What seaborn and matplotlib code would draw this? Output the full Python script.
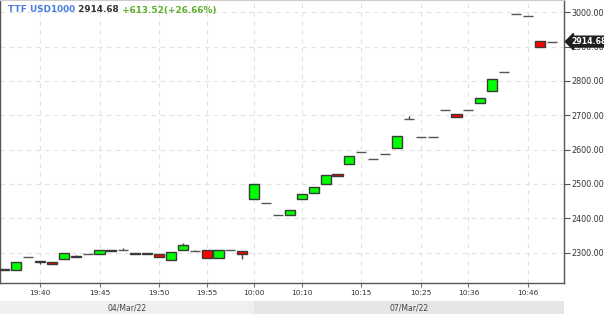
import numpy as np
import pandas as pd
import matplotlib
matplotlib.use("Agg")
import matplotlib.pyplot as plt
import seaborn as sns

# ---- data ----
opens = [2250, 2251, 2287, 2273, 2273, 2282, 2291, 2297, 2297, 2308,
         2308, 2300, 2299, 2295, 2279, 2308, 2304, 2309, 2285, 2309,
         2306, 2457, 2445, 2411, 2409, 2456, 2474, 2501, 2530, 2558,
         2593, 2574, 2587, 2606, 2688, 2638, 2638, 2715, 2705, 2716,
         2736, 2771, 2826, 2996, 2990, 2916, 2914.68]
closes = [2252, 2273, 2287, 2277, 2267, 2299, 2288, 2297, 2308, 2305,
          2308, 2296, 2296, 2287, 2301, 2322, 2304, 2285, 2309, 2309,
          2297, 2500, 2445, 2411, 2423, 2471, 2491, 2525, 2524, 2582,
          2593, 2574, 2587, 2641, 2688, 2638, 2638, 2715, 2696, 2716,
          2750, 2805, 2826, 2996, 2990, 2899, 2914.68]
highs = [2252, 2273, 2287, 2277, 2273, 2299, 2294, 2297, 2308, 2308,
         2315, 2300, 2299, 2295, 2301, 2328, 2309, 2309, 2309, 2309,
         2306, 2500, 2445, 2411, 2423, 2471, 2491, 2525, 2530, 2582,
         2593, 2574, 2587, 2641, 2697, 2638, 2638, 2715, 2705, 2716,
         2750, 2805, 2826, 2996, 2990, 2916, 2914.68]
lows = [2250, 2251, 2287, 2266, 2267, 2282, 2288, 2297, 2297, 2305,
        2308, 2296, 2296, 2287, 2279, 2308, 2304, 2285, 2285, 2309,
        2282, 2457, 2445, 2411, 2409, 2456, 2474, 2501, 2524, 2558,
        2593, 2574, 2587, 2606, 2688, 2638, 2638, 2715, 2696, 2716,
        2736, 2771, 2826, 2996, 2990, 2899, 2914.68]
tick_idx = [3, 8, 13, 17, 21, 25, 30, 35, 39, 44]
tick_labels = ["19:40", "19:45", "19:50", "19:55", "10:00", "10:10",
               "10:15", "10:25", "10:36", "10:46"]
day_labels = ["04/Mar/22", "07/Mar/22"]
day_start_idx = [0, 21]
y_ticks = [2300, 2400, 2500, 2600, 2700, 2800, 2900, 3000]
symbol = "TTF USD1000"
last_price = 2914.68
change = 613.52
change_pct = 26.66

# ---- frame ----
n = len(opens)
df = pd.DataFrame({
    "i": np.arange(n),
    "open": opens, "close": closes, "high": highs, "low": lows,
})
df["bottom"] = df[["open", "close"]].min(axis=1)
df["height"] = (df["close"] - df["open"]).abs()

def candle_color(o, c):
    if c > o:
        return "#00ff00"
    if c < o:
        return "#ff0000"
    return "none"

sns.set_theme(style="white")
plt.rcParams["font.family"] = ["DejaVu Sans"]

W, H = 604, 314
fig = plt.figure(figsize=(W / 100, H / 100), dpi=100)
fig.patch.set_facecolor("white")

ax_right_px, ax_bot_px = 564, 283.3
ax = fig.add_axes([0, (H - ax_bot_px) / H, ax_right_px / W, ax_bot_px / H])
ax.set_facecolor("white")

# wicks
ax.vlines(df["i"], df["low"], df["high"], color="#444444", lw=1.0, zorder=2)

# bodies via seaborn
sns.barplot(data=df, x="i", y="height", bottom=df["bottom"].to_numpy(),
            native_scale=True, width=0.85, errorbar=None, ax=ax,
            color="#00ff00", edgecolor="#3a3a3a", linewidth=1.0, zorder=3)

for patch, o, c in zip(ax.patches, df["open"], df["close"]):
    fc = candle_color(o, c)
    if fc == "none":
        patch.set_facecolor("none")
        patch.set_edgecolor("#555555")
    else:
        patch.set_facecolor(fc)
        patch.set_edgecolor("#3a3a3a")

# limits from pixel geometry
x0_px, dx_px = 4.3, 11.9
ax.set_xlim((0 - x0_px) / dx_px, (ax_right_px - x0_px) / dx_px)
px_per_unit = 0.3434
ax.set_ylim(3000 - (ax_bot_px - 12.3) / px_per_unit, 3000 + 12.3 / px_per_unit)

ax.set_xlabel("")
ax.set_ylabel("")
ax.set_xticks(tick_idx)
ax.set_xticklabels(tick_labels)
ax.yaxis.tick_right()
ax.set_yticks(y_ticks)
ax.set_yticklabels([f"{v:.2f}" for v in y_ticks])

ax.grid(True, linestyle=(0, (4, 4)), color="#e2e2e2", lw=0.8, zorder=0)
ax.set_axisbelow(True)

ax.tick_params(axis="y", which="both", right=True, left=False, direction="out",
               length=4, width=0.8, color="#555555", labelsize=5.8,
               labelcolor="#333333", pad=1)
ax.tick_params(axis="x", which="both", bottom=True, direction="out", length=3,
               width=0.8, color="#777777", labelsize=5.4, labelcolor="#333333", pad=2)

for side in ["left", "bottom", "right"]:
    ax.spines[side].set_visible(True)
    ax.spines[side].set_color("#555555")
    ax.spines[side].set_linewidth(1.0)
ax.spines["top"].set_visible(True)
ax.spines["top"].set_color("#cccccc")
ax.spines["top"].set_linewidth(0.8)

# title pieces
fs_t = 6.4
t1 = ax.text(8 / ax_right_px, 1 - 10 / ax_bot_px, symbol, transform=ax.transAxes,
             fontsize=fs_t, fontweight="bold", color="#4a7ee0", va="center", ha="left")
t2 = ax.annotate(f" {last_price:.2f}", xy=(1, 0.5), xycoords=t1, va="center", ha="left",
                 fontsize=fs_t, fontweight="bold", color="#333333")
t3 = ax.annotate(f" +{change:.2f}(+{change_pct:.2f}%)", xy=(1, 0.5), xycoords=t2,
                 va="center", ha="left", fontsize=fs_t, fontweight="bold", color="#5fae2e")

# price tag
ax.annotate(f"{last_price:.2f}", xy=(1, last_price), xycoords=("axes fraction", "data"),
            xytext=(7, 0), textcoords="offset pixels", ha="left", va="center",
            fontsize=5.6, fontweight="bold", color="white", zorder=10, annotation_clip=False,
            bbox=dict(boxstyle="larrow,pad=0.12", fc="#1e1e1e", ec="#1e1e1e"))

# date band
band_top_px = 301
axb = fig.add_axes([0, 0, ax_right_px / W, (H - band_top_px) / H], sharex=ax)
axb.set_facecolor("white")
xl = ax.get_xlim()
bounds = [xl[0]] + day_start_idx[1:] + [xl[1]]
band_cols = ["#efefef", "#e6e6e6"]
for k, lab in enumerate(day_labels):
    a, b = bounds[k], bounds[k + 1]
    axb.axvspan(a, b, color=band_cols[k], lw=0)
    axb.text((a + b) / 2, 0.45, lab, ha="center", va="center", fontsize=5.5,
             color="#444444", transform=axb.get_xaxis_transform())
axb.set_ylim(0, 1)
axb.set_xlim(xl)
axb.axis("off")

fig.savefig("out.png", dpi=100, facecolor="white")
